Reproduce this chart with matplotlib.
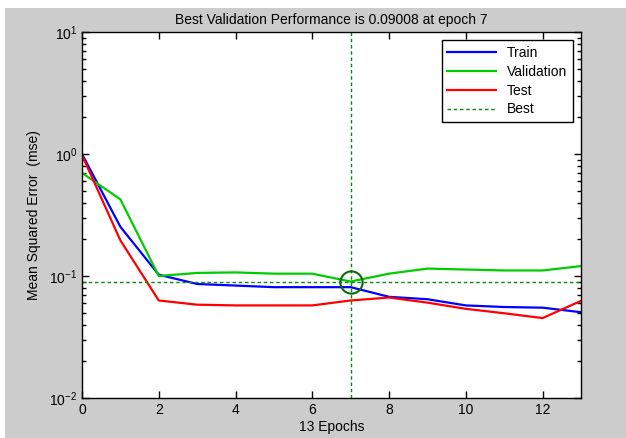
import numpy as np
import matplotlib
matplotlib.use("Agg")
import matplotlib.pyplot as plt
from matplotlib.patches import Rectangle
from matplotlib.ticker import LogLocator, NullFormatter, FixedLocator

# ========================
# Data
# ========================
epochs = list(range(14))
train_mse = [1.0, 0.253, 0.1025, 0.086, 0.0835, 0.081, 0.081, 0.081,
             0.0675, 0.0645, 0.0574, 0.0557, 0.055, 0.0505]
val_mse = [0.70, 0.425, 0.100, 0.106, 0.107, 0.1045, 0.1045, 0.09008,
           0.1045, 0.115, 0.113, 0.111, 0.111, 0.1206]
test_mse = [0.98, 0.196, 0.063, 0.0582, 0.0574, 0.0574, 0.0574, 0.063,
            0.0666, 0.0605, 0.0538, 0.0495, 0.0452, 0.0625]
best_epoch = 7
best_perf = 0.09008
x_ticks = [0, 2, 4, 6, 8, 10, 12]

plt.rcParams["font.family"] = ["Liberation Sans", "DejaVu Sans"]
plt.rcParams["mathtext.fontset"] = "custom"
plt.rcParams["mathtext.rm"] = "Liberation Sans"

fig = plt.figure(figsize=(6.26, 4.38), dpi=100, facecolor="#cccccc")

# white strip of the page around the screenshot
fig.patches.append(Rectangle((0, 1 - 8 / 438), 1, 8 / 438, transform=fig.transFigure,
                             facecolor="white", edgecolor="none", zorder=-1))
fig.patches.append(Rectangle((0, 0), 5 / 626, 1, transform=fig.transFigure,
                             facecolor="white", edgecolor="none", zorder=-1))

ax = fig.add_axes([82 / 626, 1 - 398 / 438, 499 / 626, 366 / 438])
ax.set_facecolor("white")

ax.semilogy(epochs, train_mse, color="#0000ff", lw=1.6, label="Train")
ax.semilogy(epochs, val_mse, color="#00cc00", lw=1.6, label="Validation")
ax.semilogy(epochs, test_mse, color="#ff0000", lw=1.6, label="Test")

best_color = "#0a8a0a"
ax.axhline(best_perf, color=best_color, lw=1, ls=(0, (2.5, 2)), label="Best")
ax.axvline(best_epoch, color=best_color, lw=1, ls=(0, (2.5, 2)))
ax.plot([best_epoch], [best_perf], "o", ms=16, mfc="none", mec="#0a6a0a", mew=1.5)

ax.set_xlim(0, 13)
ax.set_ylim(1e-2, 1e1)
ax.xaxis.set_major_locator(FixedLocator(x_ticks))
ax.yaxis.set_major_locator(LogLocator(base=10, numticks=10))
ax.yaxis.set_minor_locator(LogLocator(base=10, subs=np.arange(2, 10), numticks=20))
ax.yaxis.set_minor_formatter(NullFormatter())

ax.tick_params(axis="both", which="both", direction="in", top=True, right=True,
               labelsize=10, width=1)
ax.tick_params(axis="both", which="major", length=5)
ax.tick_params(axis="y", which="minor", length=3)
for s in ax.spines.values():
    s.set_linewidth(1)

ax.set_title("Best Validation Performance is 0.09008 at epoch 7", fontsize=10, pad=6)
ax.set_xlabel("13 Epochs", fontsize=10, labelpad=2)
ax.set_ylabel("Mean Squared Error  (mse)", fontsize=10, labelpad=6)

leg = ax.legend(loc="upper right", fontsize=10, fancybox=False, framealpha=1,
                edgecolor="black", handlelength=3.5, borderaxespad=0.6,
                labelspacing=0.35)
leg.get_frame().set_linewidth(1)

fig.savefig("out.png", dpi=100, facecolor=fig.get_facecolor())
